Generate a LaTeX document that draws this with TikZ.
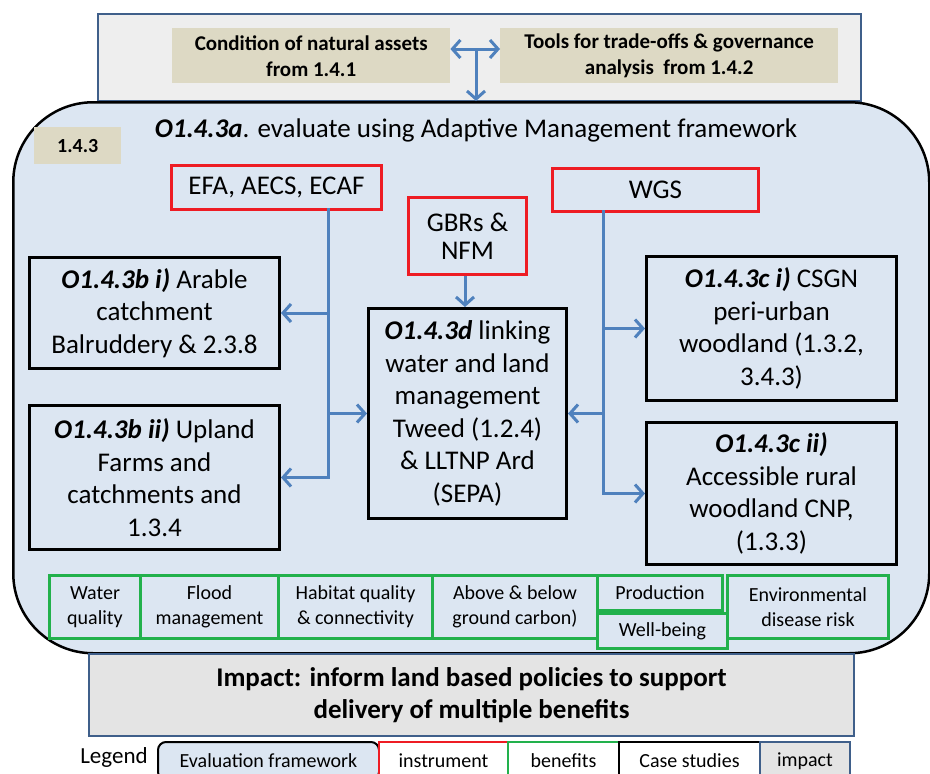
\documentclass[tikz,border=0pt]{standalone}
\usepackage{fontspec}
\setmainfont{Carlito}
\usepackage{tikz}
\usetikzlibrary{arrows.meta}
\definecolor{framefill}{HTML}{DCE6F2}
\definecolor{panelfill}{HTML}{EEEEEE}
\definecolor{impactfill}{HTML}{E4E4E4}
\definecolor{panelline}{HTML}{3F5F8A}
\definecolor{tanfill}{HTML}{DDD9C4}
\definecolor{linkblue}{HTML}{4F81BD}
\definecolor{instrred}{HTML}{EE1C24}
\definecolor{benefitgreen}{HTML}{22B14C}

\begin{document}
\begin{tikzpicture}[x=1pt, y=-1pt,
		>={Straight Barb[length=8pt,width=18pt]},
		panel/.style={draw=panelline, line width=2pt, fill=#1, anchor=north west},
		frame/.style={draw=black, line width=2.5pt, fill=framefill, rounded corners=80pt, anchor=north west},
		tanbox/.style={fill=tanfill, anchor=north west, align=center, font=\fontsize{21}{26}\selectfont\bfseries},
		instr/.style={draw=instrred, line width=3pt, anchor=north west, align=center, font=\fontsize{27}{28}\selectfont},
		case/.style={draw=black, line width=3pt, anchor=north west, align=center, font=\fontsize{27}{32.5}\selectfont},
		benefit/.style={draw=benefitgreen, line width=3pt, anchor=north west, align=center, font=\fontsize{20}{25}\selectfont},
		legendbox/.style={line width=2pt, anchor=north west, minimum height=38pt, font=\fontsize{20}{24}\selectfont},
		link/.style={draw=linkblue, line width=3pt, ->}]
		\clip (0,0) rectangle (930,774);
		\node[panel=panelfill, minimum width=763pt, minimum height=87pt] (inputs) at (97,13) {};
		\node[tanbox, minimum width=278pt, minimum height=55pt] (assets) at (172,28) {Condition of natural assets\\from 1.4.1};
		\node[tanbox, minimum width=338pt, minimum height=55pt] (tools) at (500,28) {Tools for trade-offs \& governance\\analysis~ from 1.4.2};
		\node[frame, minimum width=916pt, minimum height=551pt] (frame) at (12,101) {};
		\coordinate (fork) at (476,49);
		\draw[link, <->] (assets.east |- fork) -- (tools.west |- fork);
		\draw[link] (fork) -- (fork |- frame.north);
		\node[tanbox, minimum width=87pt, minimum height=37pt, font=\fontsize{20}{24}\selectfont\bfseries] (tag) at (34,127) {1.4.3};
		\node[font=\fontsize{27}{32}\selectfont] (title) at (476,130) {\textbf{\textit{O1.4.3a}}. evaluate using Adaptive Management framework};
		\node[instr, minimum width=210pt, minimum height=44pt] (efa) at (170,164) {EFA, AECS, ECAF};
		\node[instr, minimum width=118pt, minimum height=77pt] (gbr) at (407,196) {GBRs \&\\NFM};
		\node[instr, minimum width=206pt, minimum height=43pt] (wgs) at (551,167) {WGS};
		\node[case, minimum width=250pt, minimum height=111pt] (arable) at (28,256) {\textbf{\textit{O1.4.3b i)}} Arable\\catchment\\Balruddery \& 2.3.8};
		\node[case, minimum width=250pt, minimum height=144pt] (upland) at (28,404) {\textbf{\textit{O1.4.3b ii)}} Upland\\Farms and\\catchments and\\1.3.4};
		\node[case, minimum width=198pt, minimum height=210pt] (linking) at (367,307) {\textbf{\textit{O1.4.3d}} linking\\water and land\\management\\Tweed (1.2.4)\\\& LLTNP Ard\\(SEPA)};
		\node[case, minimum width=250pt, minimum height=144pt] (csgn) at (645,255) {\textbf{\textit{O1.4.3c i)}} CSGN\\peri-urban\\woodland (1.3.2,\\3.4.3)};
		\node[case, minimum width=250pt, minimum height=142pt] (rural) at (645,421) {\textbf{\textit{O1.4.3c ii)}}\\Accessible rural\\woodland CNP,\\(1.3.3)};
		\coordinate (efatap) at (328,208);
		\coordinate (wgstap) at (603,210);
		\draw[link] (efatap) |- (arable.east);
		\draw[link] (efatap) |- (upland.east);
		\draw[link] (efatap) |- (linking.west);
		\draw[link] (wgstap) |- (csgn.west);
		\draw[link] (wgstap) |- (rural.west);
		\draw[link] (wgstap) |- (linking.east);
		\draw[link] (gbr.south -| 465,0) -- (linking.north -| 465,0);
		\node[benefit, minimum width=91pt, minimum height=63pt] (water) at (48,574) {Water\\quality};
		\node[benefit, minimum width=138pt, minimum height=63pt] (flood) at (139,574) {Flood\\management};
		\node[benefit, minimum width=154pt, minimum height=63pt] (habitat) at (277,574) {Habitat quality\\\& connectivity};
		\node[benefit, minimum width=165pt, minimum height=63pt] (carbon) at (431,574) {Above \& below\\ground carbon)};
		\node[benefit, minimum width=125pt, minimum height=35pt] (production) at (596,574) {Production};
		\node[benefit, minimum width=130pt, minimum height=35pt] (wellbeing) at (596,612) {Well-being};
		\node[benefit, minimum width=161pt, minimum height=63pt] (disease) at (726,574) {Environmental\\disease risk};
		\node[panel=impactfill, minimum width=765pt, minimum height=82pt, align=center, font=\fontsize{27}{32}\selectfont\bfseries] (impact) at (88,653) {Impact: inform land based policies to support\\delivery of multiple benefits};
		\node[font=\fontsize{23}{27}\selectfont] (legend) at (114,757) {Legend};
		\node[legendbox, draw=black, fill=framefill, rounded corners=8pt, minimum width=221pt] (keyframe) at (157,741) {Evaluation framework};
		\node[legendbox, draw=instrred, fill=white, minimum width=129pt] (keyinstr) at (378,741) {instrument};
		\node[legendbox, draw=benefitgreen, fill=white, minimum width=111pt] (keybenefit) at (507,741) {benefits};
		\node[legendbox, draw=black, fill=white, minimum width=141pt] (keycase) at (618,741) {Case studies};
		\node[legendbox, draw=panelline, fill=impactfill, minimum width=90pt] (keyimpact) at (759,741) {impact};
	\end{tikzpicture}
\end{document}
